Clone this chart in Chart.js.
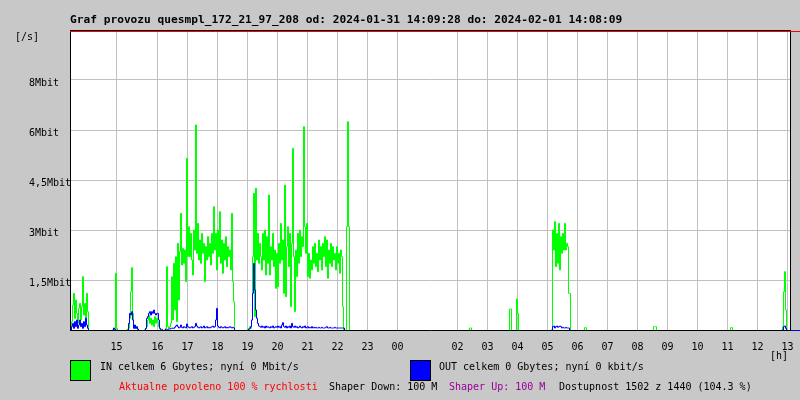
<!DOCTYPE html>
<html lang="cs">
<head>
<meta charset="UTF-8">
<title>Graf provozu quesmpl_172_21_97_208</title>
<script src="https://cdn.jsdelivr.net/npm/chart.js@4.4.1/dist/chart.umd.min.js"></script>
<style>
    * { margin: 0; padding: 0; }
    body { background: #c8c8c8; width: 800px; height: 400px; overflow: hidden; }
    .wrap { position: relative; width: 800px; height: 400px; }
</style>
</head>
<body>
<div class="wrap"><canvas id="graf"></canvas></div>
<script>
// 720 samples (2 min each), value in Mbit/s
const sampleCount = 720;

// x ticks: sample index of each hour line + its label
const xTickPos    = [46, 87, 117, 147, 177, 207, 237, 267, 297, 327, 387, 417, 447, 477, 507, 537, 567, 597, 627, 657, 687, 717];
const xTickLabels = ['15','16','17','18','19','20','21','22','23','00','02','03','04','05','06','07','08','09','10','11','12','13'];

// y ticks (Mbit) and their printed labels
const yTickValues = [1.5, 3, 4.5, 6, 7.5];
const yTickLabels = ['1,5Mbit', '3Mbit', '4,5Mbit', '6Mbit', '8Mbit'];

// IN traffic: start sample of each burst, then its values
const inStarts = [1, 44, 57, 75, 95, 178, 399, 439, 446, 482, 514, 583, 660, 712];
const inRuns = [
    [0.25, 0.75, 1.1, 0.35, 0.9, 0.5, 0.2, 0.65, 0.8, 0.3, 0.7, 1.6, 0.45, 0.8, 0.25, 1.1, 0.55],
    [0.05, 1.7, 0.05],
    [0.03, 0.05, 0.35, 1.15, 1.87, 0.5, 0.15, 0.05, 0.1, 0.05],
    [0.05, 0.1, 0.3, 0.45, 0.2, 0.35, 0.15, 0.3, 0.1, 0.4, 0.2, 0.35, 0.25, 0.1, 0.05],
    [0.05, 1.9, 0.1, 0.05, 0.1, 0.2, 1.6, 0.3, 2.0, 0.6, 2.2, 0.25, 2.6, 0.9, 2.35, 3.5, 1.95, 2.45, 2.0, 2.4,
     1.45, 5.15, 2.2, 3.1, 2.2, 2.9, 2.1, 1.65, 3.0, 2.4, 6.15, 2.3, 3.2, 2.1, 2.7, 2.0, 2.9, 2.3, 2.6, 1.45,
     2.5, 2.1, 2.8, 2.2, 2.6, 1.95, 2.9, 2.3, 3.7, 2.4, 2.9, 1.8, 3.0, 2.2, 3.55, 2.0, 2.7, 1.7, 2.6, 2.1,
     2.8, 1.9, 2.5, 2.2, 2.4, 1.8, 3.5, 1.45, 0.85],
    [0.05, 0.1, 0.05, 0.3, 2.2, 4.1, 0.4, 4.25, 2.1, 2.9, 2.0, 2.6, 2.2, 1.8, 2.9, 2.1, 3.0, 1.65, 2.8, 2.0,
     4.05, 1.65, 2.5, 2.1, 2.9, 1.9, 2.4, 1.25, 2.3, 1.3, 2.6, 2.0, 3.2, 2.1, 2.7, 1.1, 4.35, 1.0, 2.5, 3.1,
     1.9, 2.9, 0.7, 2.6, 5.45, 2.2, 0.55, 2.4, 1.6, 2.9, 2.0, 3.0, 2.2, 2.8, 2.5, 6.1, 3.1, 2.3, 3.2, 1.6,
     2.3, 1.55, 2.1, 1.8, 2.5, 2.0, 2.6, 1.9, 2.3, 1.75, 2.7, 2.1, 2.5, 1.8, 2.6, 2.2, 2.8, 1.9, 2.7, 1.55,
     2.4, 2.0, 2.6, 1.9, 2.5, 2.1, 2.3, 1.8, 2.5, 2.0, 2.3, 1.7, 2.4, 2.2, 0.7, 0, 0, 0, 3.1, 6.25, 3.1],
    [0.06, 0.06],
    [0.63, 0.63],
    [0.93, 0.5],
    [3.0, 2.4, 3.25, 1.9, 2.9, 2.0, 3.2, 1.8, 2.8, 2.3, 2.9, 2.4, 3.2, 2.4, 2.6, 2.5, 1.1, 1.1],
    [0.07, 0.07],
    [0.1, 0.1, 0.1],
    [0.07, 0.07],
    [0.1, 1.15, 1.75, 0.6]
];

// OUT traffic, same layout
const outStarts = [1, 43, 58, 75, 95, 178, 482, 713];
const outRuns = [
    [0.1, 0.2, 0.05, 0.25, 0.1, 0.3, 0.05, 0.15, 0.3, 0.1, 0.2, 0.05, 0.25, 0.1, 0.35, 0.15, 0.05],
    [0.06, 0.03],
    [0.2, 0.5, 0.45, 0.55, 0.3, 0.05, 0.15, 0.05, 0.1, 0.03],
    [0.05, 0.35, 0.4, 0.5, 0.55, 0.45, 0.55, 0.5, 0.6, 0.5, 0.45, 0.5, 0.5, 0.3, 0.05, 0.02, 0.02],
    [0.02, 0.02, 0.02, 0.03, 0.03, 0.05, 0.05, 0.06, 0.05, 0.08,
     0.12, 0.15, 0.1, 0.06, 0.08, 0.15, 0.08, 0.06, 0.1, 0.08,
     0.06, 0.18, 0.1, 0.08, 0.06, 0.08, 0.1, 0.06, 0.08, 0.1,
     0.2, 0.12, 0.08, 0.06, 0.08, 0.1, 0.06, 0.08, 0.12, 0.06,
     0.08, 0.1, 0.06, 0.08, 0.06, 0.08, 0.1, 0.12, 0.08, 0.1,
     0.3, 0.65, 0.12, 0.08, 0.06, 0.1, 0.08, 0.06, 0.08, 0.1,
     0.06, 0.08, 0.06, 0.08, 0.1, 0.08, 0.06, 0.08, 0.06],
    [0.02, 0.05, 0.1, 0.3, 1.1, 2.0, 1.2, 0.6, 0.35, 0.2,
     0.12, 0.1, 0.08, 0.12, 0.08, 0.1, 0.06, 0.12, 0.08, 0.1,
     0.08, 0.06, 0.1, 0.08, 0.12, 0.06, 0.08, 0.1, 0.08, 0.12,
     0.08, 0.1, 0.06, 0.15, 0.22, 0.1, 0.08, 0.12, 0.06, 0.1,
     0.08, 0.12, 0.06, 0.2, 0.1, 0.08, 0.12, 0.08, 0.1, 0.06,
     0.08, 0.12, 0.08, 0.06, 0.1, 0.08, 0.12, 0.06, 0.08, 0.1,
     0.06, 0.08, 0.06, 0.1, 0.06, 0.08, 0.06, 0.08, 0.06, 0.06,
     0.08, 0.06, 0.06, 0.08, 0.06, 0.06, 0.06, 0.08, 0.1, 0.06,
     0.06, 0.08, 0.06, 0.06, 0.06, 0.06, 0.08, 0.06, 0.06, 0.06,
     0.06, 0.06, 0.06, 0.06, 0.06, 0.06],
    [0.1, 0.12, 0.06, 0.1, 0.12, 0.08, 0.1, 0.12, 0.1, 0.06, 0.08, 0.06, 0.06, 0.08, 0.06, 0.06, 0.06],
    [0.1, 0.12, 0.05]
];

const titleText = 'Graf provozu quesmpl_172_21_97_208 od: 2024-01-31 14:09:28 do: 2024-02-01 14:08:09';

// expand bursts into one series; long zero stretches become gaps so they
// don't paint over the axis
function buildSeries(starts, runs) {
    const vals = new Array(sampleCount).fill(0);
    starts.forEach((s, i) => runs[i].forEach((v, j) => { vals[s + j] = v; }));
    return vals.map((v, i) => {
        const prev = i > 0 ? vals[i - 1] : 0;
        const next = i < sampleCount - 1 ? vals[i + 1] : 0;
        if (v === 0 && prev === 0 && next === 0) return {x: i, y: null};
        return {x: i, y: v};
    });
}

const mono = '"DejaVu Sans Mono", monospace';

const frame = {
    id: 'frame',
    beforeDraw(chart) {
        const {ctx, chartArea: a} = chart;
        ctx.save();
        ctx.fillStyle = '#c8c8c8';
        ctx.fillRect(0, 0, chart.width, chart.height);
        ctx.fillStyle = '#ffffff';
        ctx.fillRect(a.left, a.top, a.right - a.left, a.bottom - a.top);
        ctx.restore();
    },
    afterDraw(chart) {
        const {ctx, chartArea: a} = chart;
        ctx.save();
        ctx.lineWidth = 1;
        // top edge, right edge, little markers past the right edge
        ctx.strokeStyle = '#000';
        ctx.beginPath();
        ctx.moveTo(a.left, a.top + 0.5); ctx.lineTo(a.right, a.top + 0.5);
        ctx.moveTo(a.right + 0.5, a.top); ctx.lineTo(a.right + 0.5, a.bottom);
        ctx.stroke();
        ctx.strokeStyle = '#ff0000';
        ctx.beginPath();
        ctx.moveTo(a.left, a.top + 1.5); ctx.lineTo(800, a.top + 1.5);
        ctx.stroke();
        ctx.strokeStyle = '#0000ff';
        ctx.beginPath();
        ctx.moveTo(a.right + 1, a.bottom + 0.5); ctx.lineTo(800, a.bottom + 0.5);
        ctx.stroke();

        ctx.fillStyle = '#000';
        ctx.font = 'bold 11.2px ' + mono;
        ctx.fillText(titleText, 70, 23);

        ctx.font = '10px ' + mono;
        ctx.fillText('[/s]', 15, 40);
        ctx.fillText('[h]', 770, 359);

        // legend boxes
        ctx.fillStyle = '#00ff00';
        ctx.fillRect(70, 360, 21, 21);
        ctx.fillStyle = '#0000ff';
        ctx.fillRect(410, 360, 21, 21);
        ctx.strokeStyle = '#000';
        ctx.strokeRect(70.5, 360.5, 20, 20);
        ctx.strokeRect(410.5, 360.5, 20, 20);

        ctx.fillStyle = '#000';
        ctx.fillText('IN celkem 6 Gbytes; nyní 0 Mbit/s', 100, 370);
        ctx.fillText('OUT celkem 0 Gbytes; nyní 0 kbit/s', 439, 370);

        ctx.fillStyle = '#ff0000';
        ctx.fillText('Aktualne povoleno 100 % rychlosti', 119, 390);
        ctx.fillStyle = '#000';
        ctx.fillText('Shaper Down: 100 M', 329, 390);
        ctx.fillStyle = '#990099';
        ctx.fillText('Shaper Up: 100 M', 449, 390);
        ctx.fillStyle = '#000';
        ctx.fillText('Dostupnost 1502 z 1440 (104.3 %)', 559, 390);
        ctx.restore();
    }
};

new Chart(document.getElementById('graf'), {
    type: 'line',
    data: {
        datasets: [
            {
                label: 'OUT',
                data: buildSeries(outStarts, outRuns),
                borderColor: '#0000ff',
                borderWidth: 1,
                pointRadius: 0,
                stepped: true,
                spanGaps: false
            },
            {
                label: 'IN',
                data: buildSeries(inStarts, inRuns),
                borderColor: '#00ff00',
                borderWidth: 1,
                pointRadius: 0,
                stepped: true,
                spanGaps: false
            }
        ]
    },
    options: {
        responsive: true,
        maintainAspectRatio: false,
        animation: false,
        events: [],
        layout: { padding: { top: 30, right: 10, bottom: 0, left: 29 } },
        plugins: {
            legend: { display: false },
            title: { display: false },
            tooltip: { enabled: false }
        },
        scales: {
            x: {
                type: 'linear',
                min: -0.5,
                max: sampleCount - 0.5,
                afterBuildTicks: (axis) => { axis.ticks = xTickPos.map(v => ({value: v})); },
                afterFit: (axis) => {
                    axis.height = 70;
                    axis.paddingLeft = 0;
                    axis.paddingRight = 0;
                },
                grid: { color: '#c0c0c0', drawTicks: false },
                border: { display: true, color: '#000', width: 1, z: 1 },
                ticks: {
                    autoSkip: false,
                    maxRotation: 0,
                    padding: 11,
                    color: '#000',
                    font: { family: mono, size: 10 },
                    callback: (value, index) => xTickLabels[index]
                }
            },
            y: {
                min: 0,
                max: 9,
                afterBuildTicks: (axis) => { axis.ticks = yTickValues.map(v => ({value: v})); },
                afterFit: (axis) => {
                    axis.width = 41;
                    axis.paddingTop = 0;
                    axis.paddingBottom = 0;
                },
                grid: { color: '#c0c0c0', drawTicks: false },
                border: { display: true, color: '#000', width: 1, z: 1 },
                ticks: {
                    crossAlign: 'far',
                    padding: 0,
                    labelOffset: 3,
                    color: '#000',
                    font: { family: mono, size: 10 },
                    callback: (value, index) => yTickLabels[index]
                }
            }
        }
    },
    plugins: [frame]
});
</script>
</body>
</html>
